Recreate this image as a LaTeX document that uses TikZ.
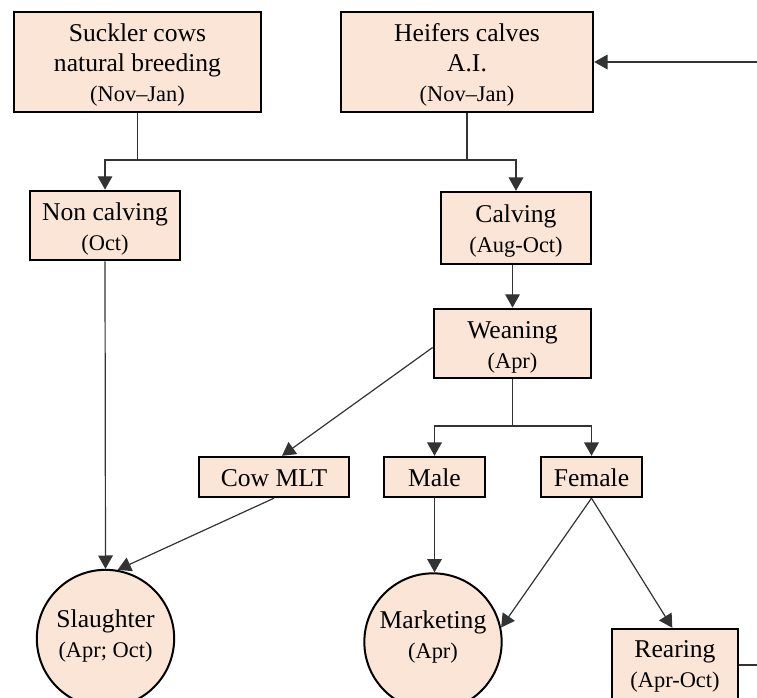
\documentclass[tikz,border=0pt]{standalone}
\usepackage{fontspec}
\setmainfont{Liberation Serif}
\usetikzlibrary{arrows.meta}
\definecolor{peach}{HTML}{FBE5D6}
\definecolor{linegray}{HTML}{333333}
% second line of a box, in a smaller size
\newcommand{\sub}[1]{{\fontsize{16.8}{22.5}\selectfont #1}}
% box text, set a little low as in the source
\newcommand{\txt}[2][-3pt]{\raisebox{#1}[\height][\depth]{%
  \begin{tabular}{@{}c@{}}#2\end{tabular}}}

\begin{document}
\begin{tikzpicture}[x=0.75pt, y=-0.75pt,
  box/.style={draw=black, line width=1.8pt, fill=peach,
    inner sep=0pt, font=\fontsize{19.2}{22.5}\selectfont},
  blob/.style={draw=black, line width=1.5pt, fill=peach, circle,
    inner sep=0pt, minimum size=103pt, font=\fontsize{19.2}{22.5}\selectfont},
  arr/.style={-{Triangle[length=10pt, width=11pt]}},
  link/.style={draw=linegray, line width=0.9pt}]
  \useasboundingbox (0,0) rectangle (757,698);
  \clip (0,0) rectangle (757,698);

  % Herds
  \node[box, minimum width=185pt, minimum height=75pt] (suck) at (137.5,62)
    {\txt{Suckler cows\\natural breeding\\\sub{(Nov--Jan)}}};
  \node[box, minimum width=189pt, minimum height=75pt] (heif) at (467,62)
    {\txt{Heifers calves\\A.I.\\\sub{(Nov--Jan)}}};

  % Reproduction
  \node[box, minimum width=112.5pt, minimum height=52pt] (nonc) at (105,225.5)
    {\txt{Non calving\\\sub{(Oct)}}};
  \node[box, minimum width=112.5pt, minimum height=54pt] (calv) at (516,228)
    {\txt{Calving\\\sub{(Aug-Oct)}}};
  \node[box, minimum width=118pt, minimum height=52pt] (wean) at (512.5,343.5)
    {\txt{Weaning\\\sub{(Apr)}}};

  % Outputs of weaning
  \node[box, minimum width=112.5pt, minimum height=30pt] (cow) at (274,477) {\txt{Cow MLT}};
  \node[box, minimum width=76pt, minimum height=30pt] (male) at (434.5,477) {\txt{Male}};
  \node[box, minimum width=76pt, minimum height=30pt] (fem) at (591.5,477) {\txt{Female}};

  % End points
  \node[blob] (slau) at (105.5,638.5) {\txt[1.5pt]{Slaughter\\\sub{(Apr; Oct)}}};
  \node[blob] (mark) at (433,642) {\txt[3.5pt]{Marketing\\\sub{(Apr)}}};
  \node[box, minimum width=94.5pt, minimum height=54pt] (rear) at (675,665)
    {\txt[-1pt]{Rearing\\\sub{(Apr-Oct)}}};

  % Loop ends at the edge
  \coordinate (inR) at (757,62);
  \coordinate (outR) at (757,665);
  \coordinate (bar) at (0,160);
  \coordinate (bar2) at (0,426);

  % Connectors
  \draw[link, arr] (inR) -- (heif.east);
  \draw[link] (suck.south) -- (suck.south |- bar);
  \draw[link] (heif.south) -- (heif.south |- bar);
  \draw[link, arr] (suck.south |- bar) -| (nonc.north);
  \draw[link, arr] (heif.south |- bar) -| (calv.north);
  \draw[link] (suck.south |- bar) -- (heif.south |- bar);
  \draw[link, arr] (wean.north |- calv.south) -- (wean.north);
  \draw[link, arr] ([yshift=-3pt]wean.west) -- ([xshift=6pt]cow.north);
  \draw[link] (wean.south) -- (wean.south |- bar2);
  \draw[link, arr] (wean.south |- bar2) -| (male.north);
  \draw[link, arr] (wean.south |- bar2) -| (fem.north);
  \draw[link, arr] (nonc.south) -- (slau.north);
  \draw[link, arr] (cow.south) -- (slau.80);
  \draw[link, arr] (male.south) -- (male.south |- mark.north);
  \draw[link, arr] (fem.south) -- (mark.12);
  \draw[link, arr] (fem.south) -- ([xshift=-2pt]rear.north);
  \draw[link] (rear.east) -- (outR);
\end{tikzpicture}
\end{document}
